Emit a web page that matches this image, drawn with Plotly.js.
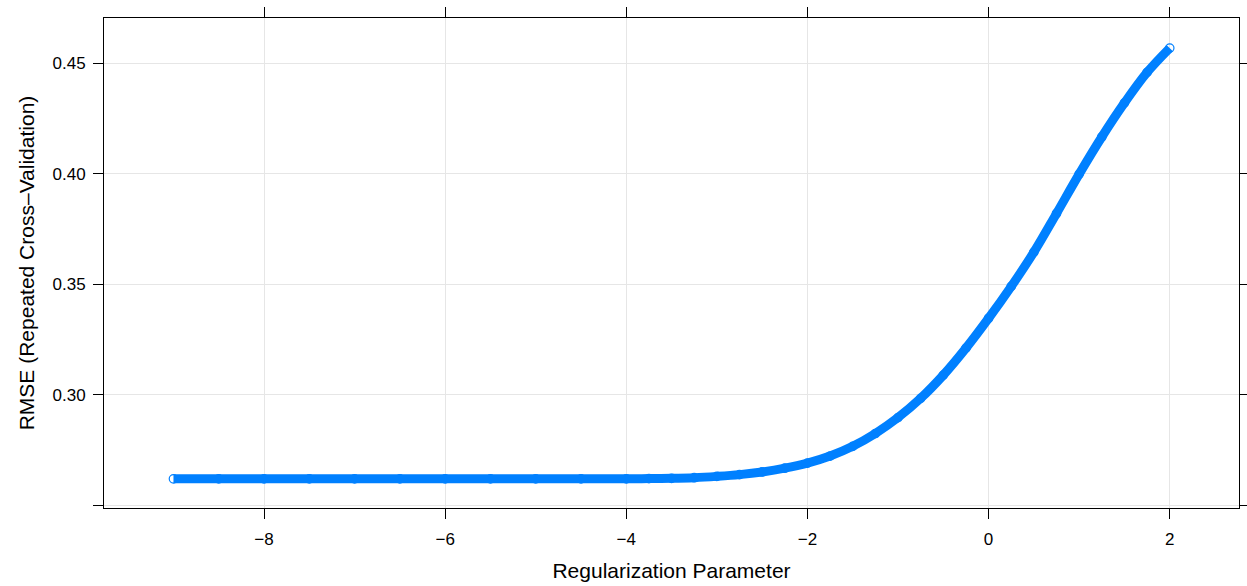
<!DOCTYPE html>
<html>
<head>
<meta charset="utf-8">
<script src="https://cdn.plot.ly/plotly-3.0.1.min.js"></script>
<style>html,body{margin:0;padding:0;background:#fff;}#chart{width:1247px;height:586px;}</style>
</head>
<body>
<div id="chart"></div>
<script>
// Regularization parameter (log scale) and RMSE
var lambdaLog = [-9, -8.5, -8, -7.5, -7, -6.5, -6, -5.5, -5, -4.5, -4, -3.75, -3.5, -3.25, -3, -2.75, -2.5, -2.25, -2, -1.75, -1.5, -1.25, -1, -0.75, -0.5, -0.25, 0, 0.25, 0.5, 0.75, 1, 1.25, 1.5, 1.75, 2];
var rmse = [0.2620, 0.2620, 0.2620, 0.2620, 0.2620, 0.2620, 0.2620, 0.2620, 0.2620, 0.2620, 0.2620, 0.2621, 0.2622, 0.2625, 0.2631, 0.2639, 0.2651, 0.2668, 0.2691, 0.2723, 0.2767, 0.2825, 0.2897, 0.2984, 0.3089, 0.3211, 0.3346, 0.3490, 0.3645, 0.3820, 0.3998, 0.4166, 0.4320, 0.4458, 0.4568];
var xTicks = [-8, -6, -4, -2, 0, 2];
var yTicks = [0.25, 0.30, 0.35, 0.40, 0.45];
var yTickText = ['', '0.30', '0.35', '0.40', '0.45'];

var blue = '#0080ff';
var traces = [{
  x: lambdaLog, y: rmse, type: 'scatter', mode: 'lines+markers',
  line: {color: blue, width: 9, shape: 'spline'},
  marker: {symbol: 'circle-open', size: 8.5, color: blue, line: {width: 1.2, color: blue}},
  hoverinfo: 'x+y', showlegend: false
}];

var font = 'Liberation Sans, Arial, Helvetica, sans-serif';
var layout = {
  width: 1247, height: 586,
  margin: {l: 104, r: 8, t: 18, b: 78},
  paper_bgcolor: '#fff', plot_bgcolor: '#fff',
  font: {family: font, color: '#000', size: 17},
  xaxis: {
    range: [-9.767, 2.765], tickvals: xTicks, ticktext: xTicks.map(function(v){return v < 0 ? '\u2212' + Math.abs(v) : String(v);}),
    ticks: 'outside', ticklen: 10, tickwidth: 1, tickcolor: '#000',
    showline: true, linecolor: '#000', linewidth: 1, mirror: 'ticks',
    showgrid: true, gridcolor: '#e6e6e6', gridwidth: 1, zeroline: false,
    tickfont: {size: 17, family: font, color: '#000'},
    ticklabelstandoff: 6,
    title: {text: 'Regularization Parameter', font: {size: 21, family: font, color: '#000'}, standoff: 14},
    automargin: false
  },
  yaxis: {
    range: [0.2488, 0.4704], tickvals: yTicks, ticktext: yTickText,
    ticks: 'outside', ticklen: 10, tickwidth: 1, tickcolor: '#000',
    showline: true, linecolor: '#000', linewidth: 1, mirror: 'ticks',
    showgrid: true, gridcolor: '#e6e6e6', gridwidth: 1, zeroline: false,
    tickfont: {size: 17, family: font, color: '#000'},
    ticklabelstandoff: 4,
    title: {text: 'RMSE (Repeated Cross\u2013Validation)', font: {size: 21, family: font, color: '#000'}, standoff: 12},
    automargin: false
  }
};
Plotly.newPlot('chart', traces, layout, {displayModeBar: false, staticPlot: true});
</script>
</body>
</html>
